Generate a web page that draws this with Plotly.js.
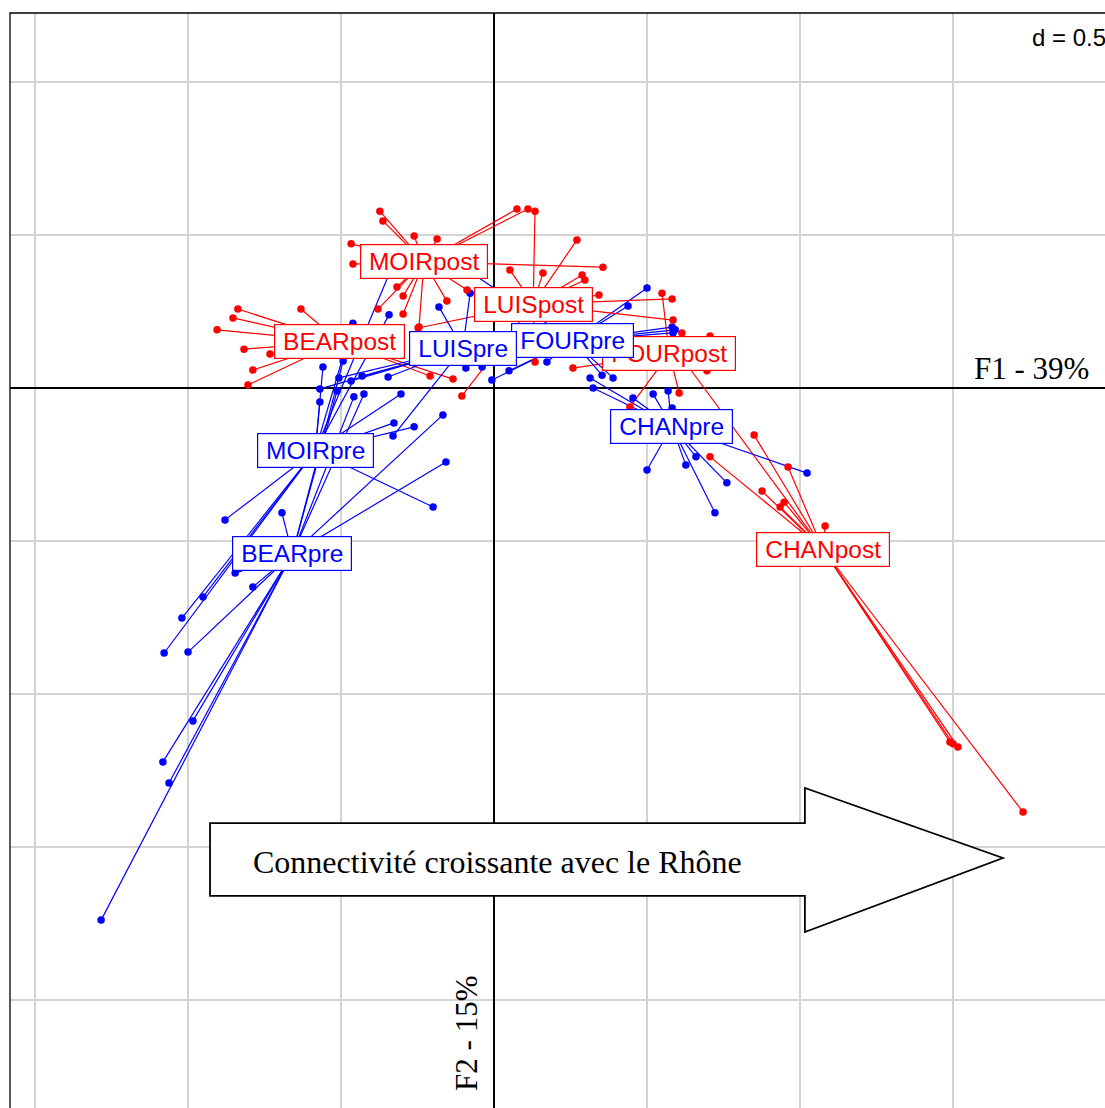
<!DOCTYPE html>
<html><head><meta charset="utf-8">
<script src="https://cdn.plot.ly/plotly-3.0.1.min.js"></script>
<style>html,body{margin:0;padding:0;background:#fff;}#chart{width:1105px;height:1108px;}</style>
</head><body><div id="chart"></div>
<script>
// ---- data (factorial coordinates, F1 horizontal, F2 vertical) ----
const groupNames = ["BEARpost","BEARpre","CHANpost","CHANpre","FOURpost","FOURpre","LUISpost","LUISpre","MOIRpost","MOIRpre"];
const groupPeriod = ["post","pre","post","pre","post","pre","post","pre","post","pre"];
const centroidX = [-0.505,-0.659, 1.075, 0.581, 0.573, 0.256, 0.128,-0.102,-0.229,-0.584];
const centroidY = [ 0.151,-0.542,-0.527,-0.125, 0.112, 0.155, 0.274, 0.130, 0.412,-0.205];

const bearPostX = [-0.837,-0.853,-0.905,-0.817,-0.732,-0.788,-0.804,-0.631,-0.209,-0.134];
const bearPostY = [ 0.258, 0.229, 0.190, 0.127, 0.111, 0.059, 0.010, 0.258, 0.039, 0.029];

const bearPreX = [-0.693,-0.167,-0.157,-1.000,-0.788,-0.846,-0.984,-1.082,-1.062,-1.284,-0.513,-0.458,-0.425,-0.493];
const bearPreY = [-0.408,-0.088,-0.242,-0.863,-0.650,-0.605,-1.088,-1.222,-1.291,-1.739,-0.010,-0.029,-0.020, 0.088];

const chanPostX = [0.850, 0.961, 0.706, 0.876, 0.935, 0.948, 1.082, 1.490, 1.500, 1.516, 1.729, 0.624];
const chanPostY = [-0.154,-0.258,-0.225,-0.337,-0.389,-0.373,-0.451,-1.157,-1.163,-1.173,-1.386, 0.085];

const chanPreX = [0.314, 0.324, 0.454, 0.520, 0.569, 0.582, 0.500, 0.627, 0.660, 0.761, 1.023, 0.722];
const chanPreY = [0.033, 0.000,-0.033,-0.020,-0.010,-0.065,-0.268,-0.252,-0.225,-0.310,-0.278,-0.408];

const fourPostX = [0.549, 0.614, 0.706, 0.696, 0.258, 0.605, 0.444];
const fourPostY = [0.310, 0.180, 0.170, 0.056, 0.065,-0.016,-0.062];

const fourPreX = [-0.007, 0.049, 0.173,-0.127, 0.500, 0.438, 0.582, 0.592, 0.585, 0.353, 0.389];
const fourPreY = [ 0.026, 0.056, 0.085, 0.412, 0.327, 0.268, 0.199, 0.190, 0.180, 0.042, 0.033];

const luisPostX = [0.134, 0.271, 0.052, 0.160, 0.288, 0.297, 0.343, 0.582, 0.585, 0.134,-0.105,-0.248];
const luisPostY = [0.578, 0.484, 0.386, 0.376, 0.369, 0.353, 0.304, 0.291, 0.222, 0.085,-0.026, 0.196];

const luisPreX = [-0.507,-0.467,-0.431,-0.346,-0.569,-0.180,-0.078,-0.330,-0.092,-0.039];
const luisPreY = [ 0.033, 0.023, 0.039, 0.036,-0.003, 0.265, 0.310,-0.157, 0.065, 0.069];

const moirPostX = [-0.373,-0.363,-0.261,-0.186,-0.467,-0.461,-0.317,-0.297,-0.297,-0.379,-0.154,-0.245,-0.088, 0.075, 0.111, 0.356];
const moirPostY = [ 0.578, 0.546, 0.497, 0.487, 0.471, 0.405, 0.330, 0.301, 0.242, 0.258, 0.284, 0.199, 0.320, 0.585, 0.585, 0.395];

const moirPreX = [-0.559,-0.569,-0.304,-0.327,-0.261,-0.199,-0.879,-1.020,-0.951,-1.078,-0.343,-0.461,-0.340];
const moirPreY = [ 0.069,-0.046,-0.020,-0.114,-0.127,-0.389,-0.431,-0.752,-0.683,-0.866, 0.239, 0.212, 0.379];

const pointsX = [bearPostX, bearPreX, chanPostX, chanPreX, fourPostX, fourPreX, luisPostX, luisPreX, moirPostX, moirPreX];
const pointsY = [bearPostY, bearPreY, chanPostY, chanPreY, fourPostY, fourPreY, luisPostY, luisPreY, moirPostY, moirPreY];

const axisTitleX = "F1 - 39%";
const axisTitleY = "F2 - 15%";
const gridLabel = "d = 0.5";
const arrowText = "Connectivité croissante avec le Rhône";

// ---- styles ----
const periodColor = {post: "#FF0000", pre: "#0000FF"};
const labelFont = '"Liberation Sans", Arial, sans-serif';
const serifFont = '"Liberation Serif", "Times New Roman", serif';
const labelSize = 24.5;

const traces = [];
// star lines
groupNames.forEach((g, i) => {
  const xs = [], ys = [];
  pointsX[i].forEach((px, k) => {
    xs.push(centroidX[i], px, null);
    ys.push(centroidY[i], pointsY[i][k], null);
  });
  traces.push({type: "scatter", mode: "lines", x: xs, y: ys, hoverinfo: "skip",
    line: {color: periodColor[groupPeriod[i]], width: 1.2}, showlegend: false});
});
// points
groupNames.forEach((g, i) => {
  traces.push({type: "scatter", mode: "markers", x: pointsX[i], y: pointsY[i], name: g,
    marker: {color: periodColor[groupPeriod[i]], size: 7.5, line: {width: 0}}, showlegend: false});
});

// measure label widths
const cv = document.createElement("canvas").getContext("2d");
cv.font = labelSize + "px " + labelFont;

const annotations = groupNames.map((g, i) => ({
  x: centroidX[i], y: centroidY[i], xref: "x", yref: "y", text: g, showarrow: false,
  font: {family: labelFont, size: labelSize, color: periodColor[groupPeriod[i]]},
  bgcolor: "#FFFFFF", bordercolor: periodColor[groupPeriod[i]], borderwidth: 1.2, borderpad: 1,
  width: Math.round(cv.measureText(g).width + 14), height: 31, align: "center", valign: "middle"
}));

annotations.push({x: 1.757, y: 0.065, xref: "x", yref: "y", text: axisTitleX, showarrow: false,
  font: {family: serifFont, size: 31, color: "#000"}});
annotations.push({x: -0.092, y: -2.108, xref: "x", yref: "y", text: axisTitleY, showarrow: false,
  textangle: -90, font: {family: serifFont, size: 31, color: "#000"}});
annotations.push({x: 1.745, y: 1.147, xref: "x", yref: "y", xanchor: "left", text: gridLabel, showarrow: false,
  bgcolor: "#FFFFFF", borderpad: 3, font: {family: labelFont, size: 24, color: "#000"}});
annotations.push({x: 0.013, y: -1.549, xref: "x", yref: "y", text: arrowText, showarrow: false,
  font: {family: serifFont, size: 32, color: "#000"}});

const shapes = [
  {type: "path", xref: "x", yref: "y", layer: "above",
   path: "M -0.928,-1.422 L 1.016,-1.422 L 1.016,-1.307 L 1.663,-1.536 L 1.016,-1.778 L 1.016,-1.660 L -0.928,-1.660 Z",
   line: {color: "#000", width: 1.8}, fillcolor: "#FFFFFF"},
  {type: "rect", xref: "paper", yref: "paper", x0: 0, x1: 1.05, y0: -0.05, y1: 1, layer: "above",
   line: {color: "#000", width: 1.3}, fillcolor: "rgba(0,0,0,0)"}
];

const layout = {
  width: 1105, height: 1108,
  margin: {l: 10, r: 0, t: 13, b: 0, pad: 0},
  paper_bgcolor: "#FFFFFF", plot_bgcolor: "#FFFFFF",
  xaxis: {range: [-1.5817, 1.9967], tick0: 0, dtick: 0.5, showticklabels: false, ticks: "",
    showgrid: true, gridcolor: "#D3D3D3", gridwidth: 1.5, zeroline: true, zerolinecolor: "#000", zerolinewidth: 1.3,
    showline: false, fixedrange: true},
  yaxis: {range: [-2.353, 1.2255], tick0: 0, dtick: 0.5, showticklabels: false, ticks: "",
    showgrid: true, gridcolor: "#D3D3D3", gridwidth: 1.5, zeroline: true, zerolinecolor: "#000", zerolinewidth: 1.3,
    showline: false, fixedrange: true},
  showlegend: false,
  annotations: annotations,
  shapes: shapes,
  hovermode: false
};

Plotly.newPlot("chart", traces, layout, {staticPlot: true, displayModeBar: false});
</script>
</body></html>
